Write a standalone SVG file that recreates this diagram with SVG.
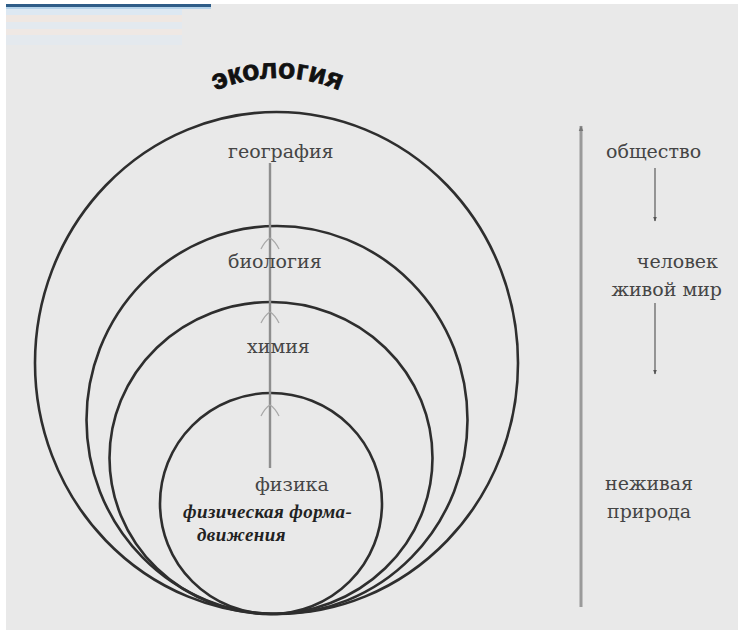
<svg xmlns="http://www.w3.org/2000/svg" width="738" height="637" viewBox="0 0 738 637">
  <style>
    .ring { fill: none; stroke: #2e2e2e; stroke-width: 2.6; }
    .lbl { font-family: "DejaVu Serif", "Liberation Serif", serif; font-size: 19px; fill: #454545; }
    .bi { font-family: "Liberation Serif", "DejaVu Serif", serif; font-size: 19px; font-weight: bold; font-style: italic; fill: #222; letter-spacing: 0.4px; }
    .title { font-family: "Liberation Sans", "DejaVu Sans", sans-serif; font-size: 28px; font-weight: bold; fill: #111; stroke: #111; stroke-width: 0.8px; letter-spacing: 0.3px; }
    .axis { stroke: #8e8e8e; stroke-width: 2.4; fill: none; }
    .chev { stroke: #a8a8a8; stroke-width: 1.3; fill: none; }
    .down { stroke: #666; stroke-width: 1.3; fill: none; marker-end: url(#ah); }
    .side { stroke: #9a9a9a; stroke-width: 3; fill: none; marker-start: url(#top); }
  </style>
  <defs>
    <marker id="ah" viewBox="0 0 10 10" refX="9" refY="5" markerWidth="5" markerHeight="5" orient="auto" markerUnits="userSpaceOnUse">
      <path d="M0,1 L10,5 L0,9 Z" fill="#555"/>
    </marker>
    <marker id="top" viewBox="0 0 10 10" refX="1" refY="5" markerWidth="6" markerHeight="6" orient="auto" markerUnits="userSpaceOnUse">
      <path d="M10,1 L0,5 L10,9 Z" fill="#777"/>
    </marker>
    <path id="arc" d="M 190 104 A 160 160 0 0 1 365 104"/>
  </defs>

  <!-- background -->
  <rect x="0" y="0" width="738" height="637" fill="#ffffff"/>
  <rect x="6" y="4" width="732" height="626" fill="#e9e9e9"/>
  <g id="header-strip">
    <rect x="6" y="9" width="176" height="6" fill="#dde8f2"/>
    <rect x="6" y="15" width="176" height="7" fill="#efe7e2"/>
    <rect x="6" y="22" width="176" height="7" fill="#e3e9ef"/>
    <rect x="6" y="29" width="176" height="6" fill="#efe8e4"/>
    <rect x="6" y="35" width="176" height="10" fill="#e4e9ee"/>
    <rect x="6" y="4" width="205" height="3" fill="#2f5d88"/>
    <rect x="6" y="7" width="205" height="2" fill="#b5d3ea"/>
  </g>

  <g id="title">
    <text class="title"><textPath href="#arc" startOffset="50%" text-anchor="middle">экология</textPath></text>
  </g>

  <g id="ring-geography"><ellipse class="ring" cx="276.5" cy="363" rx="241.5" ry="251"/></g>
  <g id="ring-biology"><ellipse class="ring" cx="277" cy="420" rx="190.5" ry="194"/></g>
  <g id="ring-chemistry"><ellipse class="ring" cx="271" cy="458" rx="161.5" ry="156"/></g>
  <g id="ring-physics"><ellipse class="ring" cx="271" cy="503.5" rx="111" ry="110.5"/></g>

  <g id="connectors">
    <line class="axis" x1="270" y1="163" x2="270" y2="468"/>
    <path class="chev" d="M261,249 Q265,241 270,238 Q275,241 279,249"/>
    <path class="chev" d="M261,323 Q265,315 270,312 Q275,315 279,323"/>
    <path class="chev" d="M261,416 Q265,408 270,405 Q275,408 279,416"/>
    <line class="side" x1="581" y1="126" x2="581" y2="607"/>
    <line class="down" x1="655" y1="168" x2="655" y2="221"/>
    <line class="down" x1="655" y1="303" x2="655" y2="374"/>
  </g>

  <g id="label-geography"><text class="lbl" x="228" y="158">география</text></g>
  <g id="label-biology"><text class="lbl" x="228" y="268">биология</text></g>
  <g id="label-chemistry"><text class="lbl" x="247" y="353">химия</text></g>
  <g id="label-physics">
    <text class="lbl" x="255" y="491">физика</text>
    <text class="bi" x="183" y="518">физическая форма-</text>
    <text class="bi" x="197" y="541">движения</text>
  </g>

  <g id="label-society"><text class="lbl" x="606" y="158">общество</text></g>
  <g id="label-human">
    <text class="lbl" x="718" y="268" text-anchor="end">человек</text>
    <text class="lbl" x="722" y="296" text-anchor="end">живой мир</text>
  </g>
  <g id="label-nonliving">
    <text class="lbl" x="605" y="490">неживая</text>
    <text class="lbl" x="607" y="518">природа</text>
  </g>
</svg>
